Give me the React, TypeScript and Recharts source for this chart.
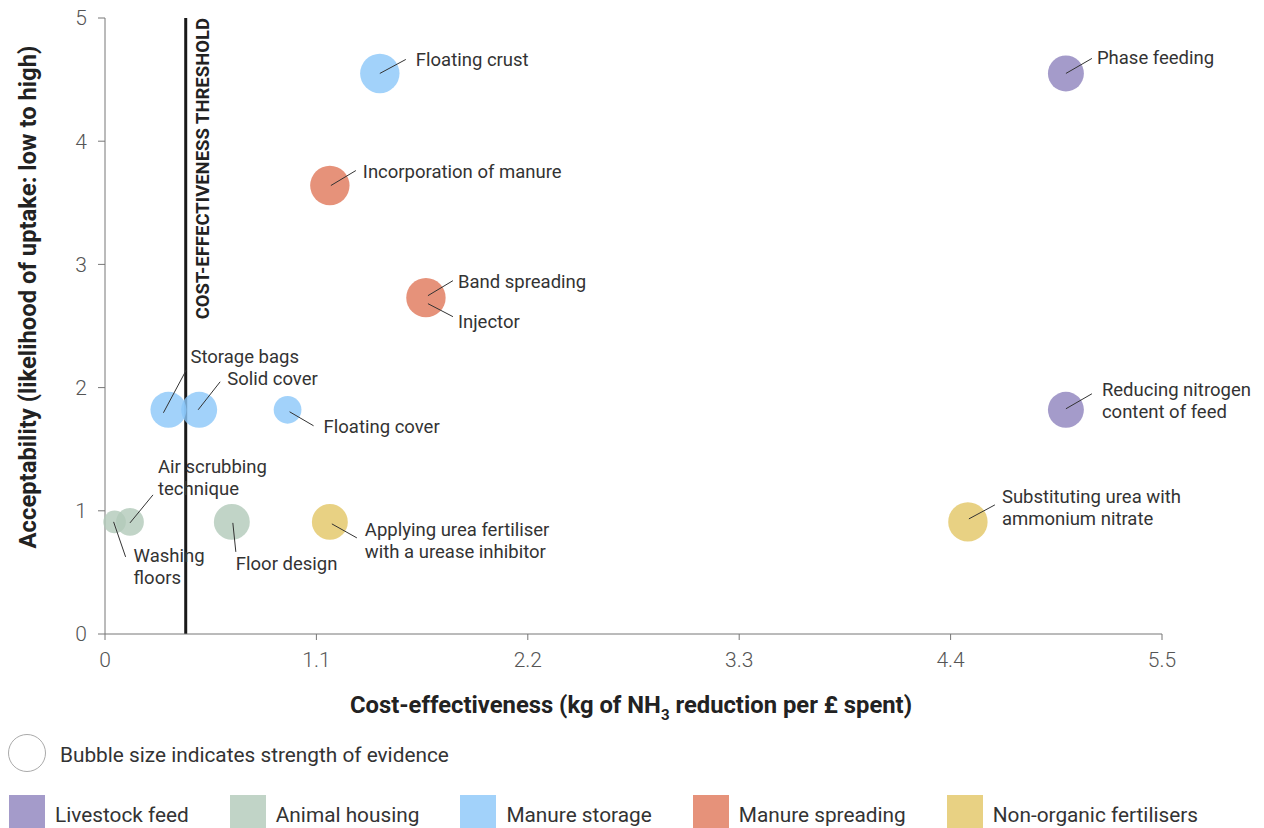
import { ReferenceLine, Scatter, ScatterChart, XAxis, YAxis, ZAxis } from "recharts";

// x: kg NH3 reduced per £, y: acceptability, evidence: 1 (weak) .. 5 (strong)
const livestockFeed = [
  { name: "Phase feeding", x: 5.0, y: 4.55, evidence: 4 },
  { name: "Reducing nitrogen\ncontent of feed", x: 5.0, y: 1.82, evidence: 4 },
];
const animalHousing = [
  { name: "Washing\nfloors", x: 0.05, y: 0.91, evidence: 1 },
  { name: "Air scrubbing\ntechnique", x: 0.13, y: 0.91, evidence: 2 },
  { name: "Floor design", x: 0.66, y: 0.91, evidence: 4 },
];
const manureStorage = [
  { name: "Floating crust", x: 1.43, y: 4.55, evidence: 5 },
  { name: "Storage bags", x: 0.33, y: 1.82, evidence: 4 },
  { name: "Solid cover", x: 0.49, y: 1.82, evidence: 4 },
  { name: "Floating cover", x: 0.95, y: 1.82, evidence: 2 },
];
const manureSpreading = [
  { name: "Incorporation of manure", x: 1.17, y: 3.64, evidence: 5 },
  { name: "Band spreading / Injector", x: 1.67, y: 2.73, evidence: 5 },
];
const nonOrganicFertilisers = [
  { name: "Applying urea fertiliser\nwith a urease inhibitor", x: 1.17, y: 0.91, evidence: 4 },
  { name: "Substituting urea with\nammonium nitrate", x: 4.49, y: 0.91, evidence: 5 },
];

const xTicks = [0, 1.1, 2.2, 3.3, 4.4, 5.5];
const yTicks = [0, 1, 2, 3, 4, 5];
const threshold = 0.42;

const series = [
  { label: "Livestock feed", color: "#8d82bd", data: livestockFeed },
  { label: "Animal housing", color: "#b2c9b9", data: animalHousing },
  { label: "Manure storage", color: "#8bc7f9", data: manureStorage },
  { label: "Manure spreading", color: "#e07759", data: manureSpreading },
  { label: "Non-organic fertilisers", color: "#e2c564", data: nonOrganicFertilisers },
];

// leader line (from -> to) and text anchor, offsets from the bubble centre
type Block = { from: [number, number]; to: [number, number]; at: [number, number] };
const labelLayout: Record<string, Block[]> = {
  "Phase feeding": [{ from: [0, 0], to: [26, -15], at: [31, -9] }],
  "Reducing nitrogen\ncontent of feed": [{ from: [0, -1], to: [26, -16], at: [36, -14] }],
  "Washing\nfloors": [{ from: [-1, 0], to: [11, 35], at: [19, 40] }],
  "Air scrubbing\ntechnique": [{ from: [0, 1], to: [23, -27], at: [28, -49] }],
  "Floor design": [{ from: [1, 1], to: [4, 30], at: [4, 48] }],
  "Floating crust": [{ from: [0, 0], to: [26, -14], at: [36, -7] }],
  "Storage bags": [{ from: [-5, 3], to: [18, -40], at: [22, -47] }],
  "Solid cover": [{ from: [-1, 0], to: [21, -28], at: [28, -25] }],
  "Floating cover": [{ from: [2, 2], to: [26, 16], at: [36, 23] }],
  "Incorporation of manure": [{ from: [1, 0], to: [26, -15], at: [33, -8] }],
  "Band spreading / Injector": [
    { from: [2, -2], to: [27, -17], at: [32, -10] },
    { from: [2, 6], to: [27, 19], at: [32, 30] },
  ],
  "Applying urea fertiliser\nwith a urease inhibitor": [{ from: [2, 2], to: [27, 16], at: [35, 14] }],
  "Substituting urea with\nammonium nitrate": [{ from: [1, -3], to: [27, -17], at: [34, -19] }],
};

const FONT = "Roboto, 'Noto Sans', sans-serif";

function Bubble(props: any) {
  const { cx, cy, size, width, payload, color } = props;
  const r = size != null ? Math.sqrt(size / Math.PI) : width / 2;
  const blocks = labelLayout[payload.name] ?? [];
  const texts = String(payload.name).split(" / ");
  return (
    <g>
      <circle cx={cx} cy={cy} r={r} fill={color} fillOpacity={0.8} />
      {blocks.map((b, i) => (
        <g key={i}>
          <line
            x1={cx + b.from[0]}
            y1={cy + b.from[1]}
            x2={cx + b.to[0]}
            y2={cy + b.to[1]}
            stroke="#333"
            strokeWidth={1}
          />
          <text x={cx + b.at[0]} y={cy + b.at[1]} fontSize={18.5} fill="#333" fontFamily={FONT}>
            {texts[i].split("\n").map((t, j) => (
              <tspan key={j} x={cx + b.at[0]} dy={j ? 22 : 0}>
                {t}
              </tspan>
            ))}
          </text>
        </g>
      ))}
    </g>
  );
}

const tickStyle = { fontSize: 21, fontWeight: 300, fill: "#555", fontFamily: FONT };

export default function App() {
  return (
    <div style={{ position: "absolute", left: 0, top: 0, width: 1264, height: 828, fontFamily: FONT }}>
      <ScatterChart width={1264} height={828} margin={{ top: 18, right: 102, bottom: 0, left: 0 }}>
        <XAxis
          type="number"
          dataKey="x"
          domain={[0, 5.5]}
          ticks={xTicks}
          interval={0}
          height={194}
          tickSize={6}
          tickMargin={12}
          stroke="#777"
          tick={tickStyle}
          label={{
            content: () => (
              <text x={631} y={713} textAnchor="middle" fontSize={23.8} fontWeight={700} fill="#222" fontFamily={FONT}>
                Cost-effectiveness (kg of NH
                <tspan fontSize={15} dy={7}>3</tspan>
                <tspan dy={-7}> reduction per £ spent)</tspan>
              </text>
            ),
          }}
        />
        <YAxis
          type="number"
          dataKey="y"
          domain={[0, 5]}
          ticks={yTicks}
          interval={0}
          width={105}
          tickSize={7}
          tickMargin={11}
          stroke="#777"
          tick={tickStyle}
          label={{
            content: () => (
              <text
                x={36}
                y={297}
                transform="rotate(-90 36 297)"
                textAnchor="middle"
                fontSize={23.8}
                fontWeight={700}
                fill="#222"
                fontFamily={FONT}
              >
                Acceptability (likelihood of uptake: low to high)
              </text>
            ),
          }}
        />
        <ZAxis type="number" dataKey="evidence" domain={[1, 5]} range={[401, 1219]} />
        {series.map((s) => (
          <Scatter
            key={s.label}
            name={s.label}
            data={s.data}
            isAnimationActive={false}
            shape={(p: any) => <Bubble {...p} color={s.color} />}
          />
        ))}
        <ReferenceLine
          x={threshold}
          stroke="#1a1a1a"
          strokeWidth={3}
          label={{
            content: (p: any) => {
              const vx = p.viewBox?.x ?? 186;
              const vy = p.viewBox?.y ?? 18;
              return (
                <text
                  x={vx + 23}
                  y={vy}
                  transform={`rotate(-90 ${vx + 23} ${vy})`}
                  textAnchor="end"
                  fontSize={18.5}
                  fontWeight={700}
                  fill="#222"
                  fontFamily={FONT}
                >
                  COST-EFFECTIVENESS THRESHOLD
                </text>
              );
            },
          }}
        />
      </ScatterChart>

      <div style={{ position: "absolute", left: 8, top: 734, display: "flex", alignItems: "center" }}>
        <div
          style={{
            width: 38,
            height: 38,
            borderRadius: "50%",
            border: "1.3px solid #aaa",
            boxSizing: "border-box",
          }}
        />
        <span style={{ marginLeft: 14, fontSize: 20.8, color: "#333", lineHeight: "20px", paddingTop: 4 }}>
          Bubble size indicates strength of evidence
        </span>
      </div>

      <div style={{ position: "absolute", left: 9, top: 795, display: "flex", gap: 41 }}>
        {series.map((s) => (
          <div key={s.label} style={{ display: "flex", alignItems: "flex-start" }}>
            <div style={{ width: 36, height: 33, background: s.color, opacity: 0.8 }} />
            <span style={{ marginLeft: 10, marginTop: 10, fontSize: 20.8, lineHeight: "20px", color: "#333" }}>
              {s.label}
            </span>
          </div>
        ))}
      </div>
    </div>
  );
}
